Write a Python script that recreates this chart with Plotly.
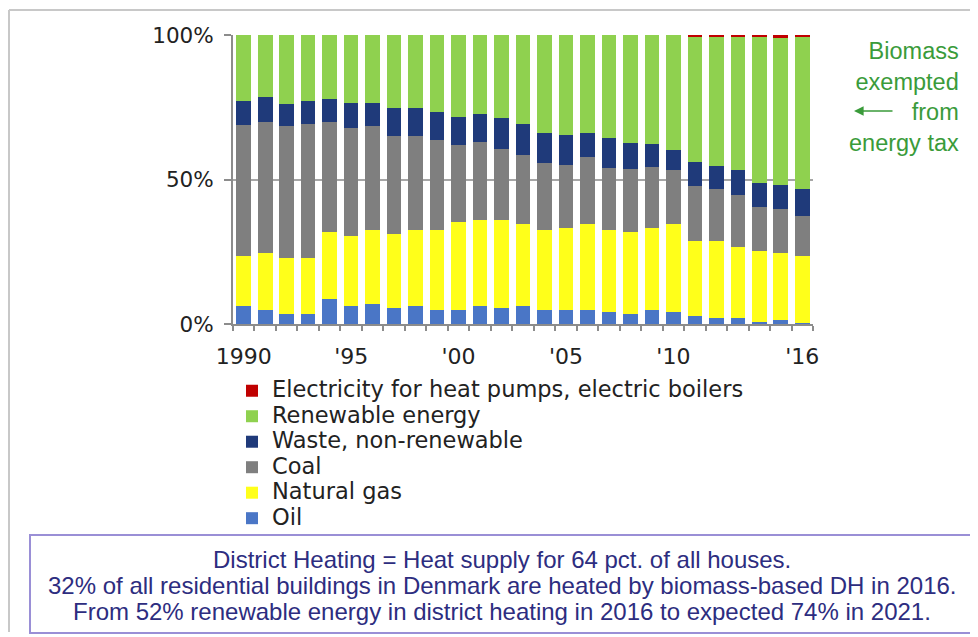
import plotly.graph_objects as go

# ---------------- data (shares of district heating fuel, %) ----------------
years = list(range(1990, 2017))
tick_years = [1990, 1995, 2000, 2005, 2010, 2016]
tick_labels = ["1990", "'95", "'00", "'05", "'10", "'16"]

oil = [6.2, 4.9, 3.4, 3.4, 8.6, 6.2, 6.8, 5.7, 6.2, 4.9,
       4.9, 6.2, 5.5, 6.2, 4.9, 4.9, 4.9, 4.2, 3.4, 4.9,
       4.2, 2.9, 2.0, 2.0, 0.7, 1.3, 0.5]
natural_gas = [17.5, 19.6, 19.6, 19.6, 23.1, 24.1, 25.6, 25.3, 26.3, 27.6,
               30.5, 29.9, 30.6, 28.4, 27.6, 28.2, 29.7, 28.3, 28.4, 28.2,
               30.4, 25.9, 26.8, 24.6, 24.4, 23.2, 23.2]
coal = [45.0, 45.4, 45.4, 46.1, 38.2, 37.6, 36.0, 34.0, 32.5, 31.3,
        26.7, 26.8, 24.6, 23.9, 23.2, 21.8, 23.1, 21.6, 21.7, 21.1,
        18.8, 19.1, 17.9, 18.1, 15.4, 15.3, 13.8]
waste = [8.5, 8.6, 7.8, 8.1, 7.9, 8.4, 7.9, 9.9, 9.9, 9.6,
         9.7, 9.8, 10.5, 10.6, 10.4, 10.6, 8.4, 10.1, 9.0, 8.2,
         6.9, 8.2, 7.9, 8.5, 8.4, 8.4, 9.2]
renewable = [22.8, 21.5, 23.8, 22.8, 22.2, 23.7, 23.7, 25.1, 25.1, 26.6,
             28.2, 27.3, 28.8, 30.9, 33.9, 34.5, 33.9, 35.8, 37.5, 37.6,
             39.7, 43.4, 44.9, 46.3, 50.6, 50.6, 52.7]
electricity = [0, 0, 0, 0, 0, 0, 0, 0, 0, 0,
               0, 0, 0, 0, 0, 0, 0, 0, 0, 0,
               0, 0.5, 0.5, 0.5, 0.5, 1.2, 0.6]

series_names = ["Oil", "Natural gas", "Coal", "Waste, non-renewable",
                "Renewable energy", "Electricity for heat pumps, electric boilers"]
series_values = [oil, natural_gas, coal, waste, renewable, electricity]
series_colors = ["#4a76c6", "#ffff1a", "#7f7f7f", "#1f3a7a", "#8fd14f", "#c00000"]

y_tick_vals = [0, 50, 100]
y_tick_labels = ["0%", "50%", "100%"]

side_note = "Biomass<br>exempted<br>from<br>energy tax"
box_lines = [
    "District Heating = Heat supply for 64 pct. of all houses.",
    "32% of all residential buildings in Denmark are heated by biomass-based DH in 2016.",
    "From 52% renewable energy in district heating in 2016 to expected 74% in 2021.",
]

# ---------------- layout geometry ----------------
# the page body adds an 8 px margin, so the figure is drawn 8 px smaller
OFF = 8
W, H = 978 - OFF, 637 - OFF
PL, PR, PT, PB = 233, 813, 35, 324  # plot area in page pixels


def px2x(px):
    return (px - PL) / (PR - PL)


def py2y(py):
    return (PB - py) / (PB - PT)


fig = go.Figure()
for name, vals, color in zip(series_names, series_values, series_colors):
    fig.add_trace(go.Bar(
        x=years, y=vals,
        name='<span style="font-size:22.5px">' + name + '</span>',
        marker=dict(color=color, line=dict(width=0)),
    ))

axis_gray = "#8c8c8c"

fig.update_layout(
    width=W, height=H, autosize=False,
    margin=dict(l=PL - OFF, r=W - (PR - OFF), t=PT - OFF, b=H - (PB - OFF)),
    paper_bgcolor="white", plot_bgcolor="white",
    barmode="stack", bargap=0.32,
    showlegend=True,
    legend=dict(
        x=px2x(232), y=py2y(373), xanchor="left", yanchor="top",
        traceorder="reversed",
        font=dict(family="DejaVu Sans", size=17.3, color="#222222"),
        bgcolor="rgba(0,0,0,0)", itemwidth=30,
    ),
    xaxis=dict(
        range=[1989.5, 2016.5],
        tickmode="array", tickvals=tick_years, ticktext=tick_labels,
        ticks="", showgrid=False, zeroline=False,
        showline=True, linecolor=axis_gray, linewidth=2,
        tickfont=dict(family="DejaVu Sans", size=22, color="#222222"),
        ticklabelstandoff=12,
        minor=dict(ticks="outside", ticklen=5, tickwidth=1.5, tickcolor=axis_gray,
                   tickmode="linear", tick0=1989.5, dtick=1, showgrid=False),
    ),
    yaxis=dict(
        range=[0, 100],
        tickmode="array", tickvals=y_tick_vals, ticktext=y_tick_labels,
        ticks="outside", ticklen=7, tickwidth=1.5, tickcolor=axis_gray,
        showline=True, linecolor=axis_gray, linewidth=2,
        showgrid=True, gridcolor="#a6a6a6", gridwidth=1.5, zeroline=False,
        tickfont=dict(family="DejaVu Sans", size=21.5, color="#222222"),
        ticklabelstandoff=6,
    ),
)

green = "#3a9b3a"
annotations = [
    dict(text=side_note, x=px2x(961), y=py2y(97), xref="paper", yref="paper",
         xanchor="right", yanchor="middle", align="right", showarrow=False,
         font=dict(family="Liberation Sans", size=23.5, color=green)),
    dict(text="", x=px2x(854), y=py2y(111), xref="paper", yref="paper",
         showarrow=True, ax=40, ay=0, arrowhead=2, arrowsize=1.2,
         arrowwidth=1.6, arrowcolor=green),
]
for txt, py in zip(box_lines, [559, 585, 611]):
    annotations.append(dict(
        text=txt, x=px2x(502), y=py2y(py), xref="paper", yref="paper",
        xanchor="center", yanchor="middle", showarrow=False,
        font=dict(family="Liberation Sans", size=24, color="#2d2d80")))
fig.update_layout(annotations=annotations)

shapes = [
    # outer slide frame (top and left edges)
    dict(type="line", xref="paper", yref="paper", x0=px2x(9), x1=px2x(977),
         y0=py2y(10), y1=py2y(10), line=dict(color="#c8c8c8", width=2)),
    dict(type="line", xref="paper", yref="paper", x0=px2x(9), x1=px2x(9),
         y0=py2y(10), y1=py2y(632), line=dict(color="#c8c8c8", width=2)),
    # note box
    dict(type="rect", xref="paper", yref="paper", x0=px2x(30), x1=px2x(975),
         y0=py2y(633), y1=py2y(535), line=dict(color="#9a8fd6", width=2),
         fillcolor="white", layer="below"),
]
fig.update_layout(shapes=shapes)

fig.write_html("out.html")
